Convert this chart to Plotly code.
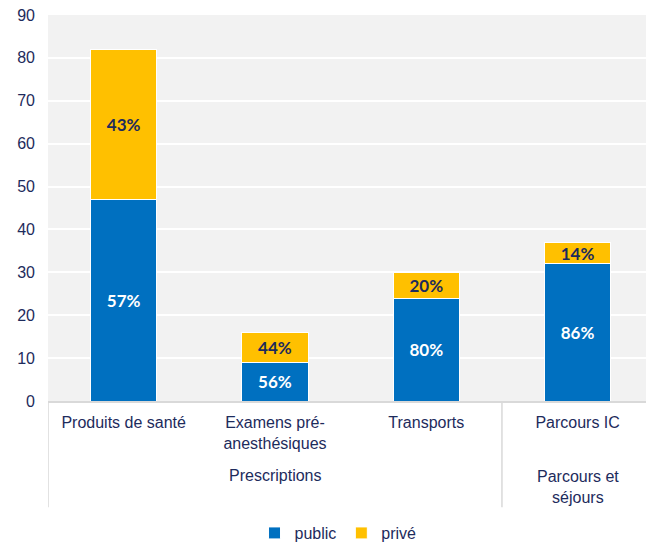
import plotly.graph_objects as go

# data
categories = ["Produits de santé", "Examens pré-anesthésiques", "Transports", "Parcours IC"]
tick_labels = ["Produits de santé", "Examens pré-<br>anesthésiques", "Transports", "Parcours IC"]
public = [47, 9, 24, 32]
prive = [35, 7, 6, 5]
public_pct = ["57%", "56%", "80%", "86%"]
prive_pct = ["43%", "44%", "20%", "14%"]
groups = ["Prescriptions", "Parcours et<br>séjours"]
group_pos = [1, 3]

navy = "#1d2b5c"
x_idx = list(range(len(categories)))

fig = go.Figure()
fig.add_trace(go.Bar(
    x=x_idx, y=public, name="public", text=public_pct,
    marker=dict(color="#0070c0", line=dict(color="white", width=1)),
    textposition="inside", insidetextanchor="middle",
    textfont=dict(family="Lato", size=17, color="white", weight="bold"),
    width=0.44,
))
fig.add_trace(go.Bar(
    x=x_idx, y=prive, name="privé", text=prive_pct,
    marker=dict(color="#ffc000", line=dict(color="white", width=1)),
    textposition="inside", insidetextanchor="middle",
    textfont=dict(family="Lato", size=17, color=navy, weight="bold"),
    width=0.44,
))

# group labels under the category labels
fig.add_annotation(x=group_pos[0], y=-0.194, xref="x", yref="paper", text=groups[0],
                   showarrow=False, yanchor="middle", font=dict(size=16, color=navy))
fig.add_annotation(x=group_pos[1], y=-0.168, xref="x", yref="paper", text=groups[1],
                   showarrow=False, yanchor="top", font=dict(size=16, color=navy))

# separators between groups
for xs in [-0.5, 2.5]:
    fig.add_shape(type="line", x0=xs, x1=xs, y0=0, y1=-0.275, xref="x", yref="paper",
                  line=dict(color="#d9d9d9", width=1.5))

fig.update_layout(
    barmode="stack",
    width=646, height=543,
    margin=dict(l=48, r=0, t=15, b=142, autoexpand=False),
    plot_bgcolor="#f2f2f2",
    paper_bgcolor="white",
    font=dict(family="Liberation Sans, Arial", size=16, color=navy),
    uniformtext=dict(minsize=17, mode="show"),
    legend=dict(orientation="h", x=0.485, xanchor="center", yref="container", y=0.0184,
                yanchor="middle", font=dict(size=16, color=navy), itemwidth=30,
                traceorder="normal"),
    xaxis=dict(
        tickmode="array", tickvals=x_idx, ticktext=tick_labels,
        range=[-0.5, 3.452], showgrid=False, zeroline=False, automargin=False,
        showline=True, linecolor="#d9d9d9", linewidth=1.5, ticks="",
        ticklabelstandoff=6,
    ),
    yaxis=dict(
        range=[0, 90], dtick=10, gridcolor="white", gridwidth=1.5, automargin=False,
        zeroline=False, showline=False, ticks="", ticklabelstandoff=12,
        ticklabeloverflow="allow",
    ),
)

# drop the default body margin so the figure fills the window
fig.write_html("out.html", config={"displayModeBar": False},
               post_script="document.body.style.margin='0';")
